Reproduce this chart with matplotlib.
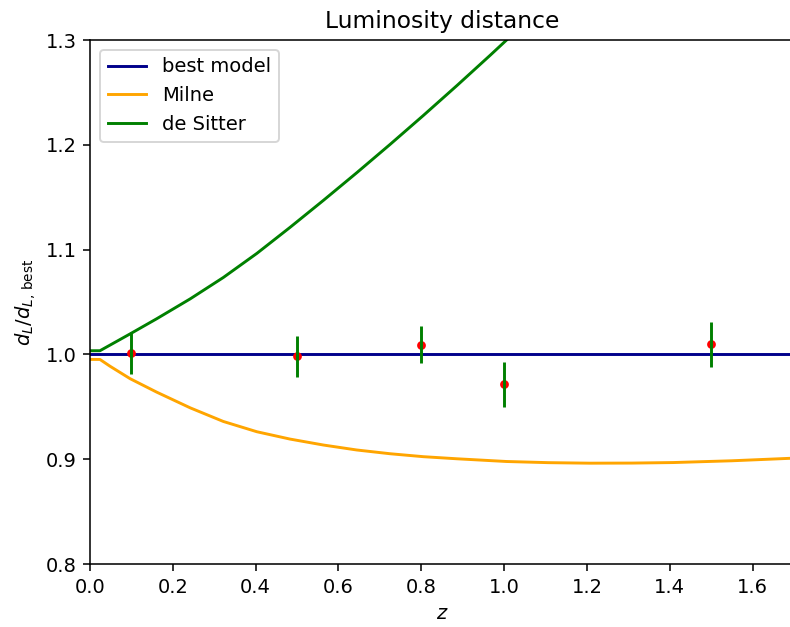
import numpy as np
import matplotlib
matplotlib.use('Agg')
import matplotlib.pyplot as plt

# curves (ratio to best model)
z_best = [0.0, 1.7]
d_best = [1.0, 1.0]

z_milne = [0.0, 0.024, 0.048, 0.097, 0.161, 0.242, 0.322, 0.403, 0.483, 0.564,
           0.644, 0.725, 0.805, 0.886, 1.006, 1.107, 1.207, 1.308, 1.408, 1.55, 1.70]
d_milne = [0.9952, 0.9952, 0.9888, 0.9768, 0.9640, 0.9490, 0.9360, 0.9262, 0.9192,
           0.9135, 0.9088, 0.9052, 0.9024, 0.9004, 0.8978, 0.8967, 0.8962, 0.8963,
           0.8968, 0.8985, 0.9010]

z_desitter = [0.0, 0.024, 0.097, 0.161, 0.242, 0.322, 0.403, 0.483, 0.564, 0.644,
              0.725, 0.805, 0.886, 0.966, 1.05]
d_desitter = [1.0035, 1.0035, 1.0196, 1.0340, 1.0530, 1.0734, 1.0964, 1.1212, 1.1471,
              1.1733, 1.2005, 1.2280, 1.2565, 1.2853, 1.3162]

# data points
z_obs = [0.1, 0.5, 0.8, 1.0, 1.5]
d_obs = [1.0013, 0.998, 1.0094, 0.9716, 1.0096]
d_err = [0.0203, 0.020, 0.0173, 0.0215, 0.0213]

DPI = 140
fig = plt.figure(figsize=(790/DPI, 627/DPI), dpi=DPI)
ax = fig.add_axes([90/790, 63/627, 704/790, 524/627])

ax.plot(z_best, d_best, color='darkblue', label='best model')
ax.plot(z_milne, d_milne, color='orange', label='Milne')
ax.plot(z_desitter, d_desitter, color='green', label='de Sitter')

ax.plot(z_obs, d_obs, 'o', color='red', markersize=3.5)
ax.errorbar(z_obs, d_obs, yerr=d_err, fmt='none', ecolor='green', elinewidth=1.5)

ax.set_xlim(0, 1.7)
ax.set_ylim(0.8, 1.3)
ax.set_xlabel('$z$')
ax.set_ylabel(r'$d_L/d_{L,\,\mathrm{best}}$')
ax.set_title('Luminosity distance')
ax.legend(loc='upper left')
# the reference is cropped just before the right spine
ax.spines['right'].set_visible(False)

fig.savefig('out.png', dpi=DPI)
